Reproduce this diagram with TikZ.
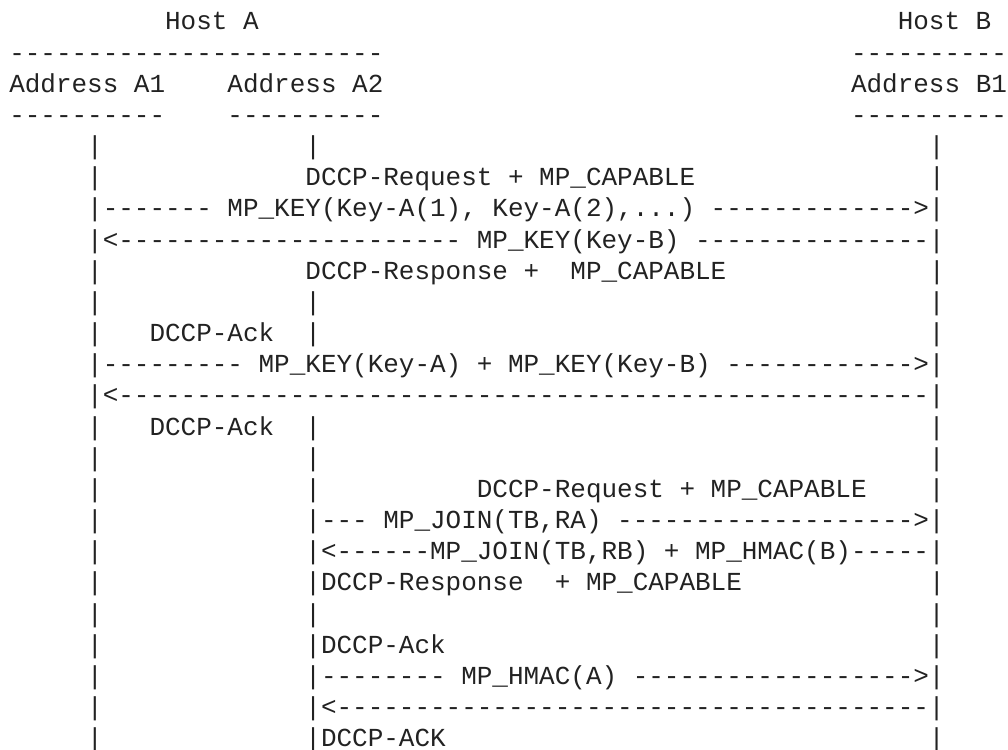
\documentclass[tikz,border=0pt]{standalone}
\usepackage{fontspec}
\setmonofont{Liberation Mono}
\usepackage{xcolor}
\definecolor{ink}{HTML}{222222}
\ExplSyntaxOn
\cs_new:Npn \myrep #1#2 { \prg_replicate:nn {#1} {#2} }
\ExplSyntaxOff
\newlength\cw
\setlength\cw{15.588pt}
\newcommand\mysp[1]{\hspace*{#1\cw}}
\newcommand\rowy[1]{-30-(#1-1)*31.16}
\tikzset{asciiline/.style={anchor=base west, inner sep=0pt, outer sep=0pt, text=ink,
  font=\ttfamily\fontsize{25.98pt}{31.16pt}\selectfont\frenchspacing}}
\begin{document}
\begin{tikzpicture}[x=1pt,y=1pt]
\fill[white] (0,0) rectangle (1008,-749);
\useasboundingbox (0,0) rectangle (1008,-749);
\node[asciiline] (l1) at (9.25,{\rowy{1}}) {\mysp{10}Host A\mysp{41}Host B};
\node[asciiline] (l2) at (9.25,{\rowy{2}}) {\myrep{24}{-}\mysp{30}\myrep{10}{-}};
\node[asciiline] (l3) at (9.25,{\rowy{3}}) {Address A1\mysp{4}Address A2\mysp{30}Address B1};
\node[asciiline] (l4) at (9.25,{\rowy{4}}) {\myrep{10}{-}\mysp{4}\myrep{10}{-}\mysp{30}\myrep{10}{-}};
\node[asciiline] (l5) at (9.25,{\rowy{5}}) {\mysp{5}|\mysp{13}|\mysp{39}|};
\node[asciiline] (l6) at (9.25,{\rowy{6}}) {\mysp{5}|\mysp{13}DCCP-Request + MP\_CAPABLE\mysp{15}|};
\node[asciiline] (l7) at (9.25,{\rowy{7}}) {\mysp{5}|\myrep{7}{-} MP\_KEY(Key-A(1), Key-A(2),...) \myrep{13}{-}>|};
\node[asciiline] (l8) at (9.25,{\rowy{8}}) {\mysp{5}|<\myrep{22}{-} MP\_KEY(Key-B) \myrep{15}{-}|};
\node[asciiline] (l9) at (9.25,{\rowy{9}}) {\mysp{5}|\mysp{13}DCCP-Response +\mysp{2}MP\_CAPABLE\mysp{13}|};
\node[asciiline] (l10) at (9.25,{\rowy{10}}) {\mysp{5}|\mysp{13}|\mysp{39}|};
\node[asciiline] (l11) at (9.25,{\rowy{11}}) {\mysp{5}|\mysp{3}DCCP-Ack\mysp{2}|\mysp{39}|};
\node[asciiline] (l12) at (9.25,{\rowy{12}}) {\mysp{5}|\myrep{9}{-} MP\_KEY(Key-A) + MP\_KEY(Key-B) \myrep{12}{-}>|};
\node[asciiline] (l13) at (9.25,{\rowy{13}}) {\mysp{5}|<\myrep{52}{-}|};
\node[asciiline] (l14) at (9.25,{\rowy{14}}) {\mysp{5}|\mysp{3}DCCP-Ack\mysp{2}|\mysp{39}|};
\node[asciiline] (l15) at (9.25,{\rowy{15}}) {\mysp{5}|\mysp{13}|\mysp{39}|};
\node[asciiline] (l16) at (9.25,{\rowy{16}}) {\mysp{5}|\mysp{13}|\mysp{10}DCCP-Request + MP\_CAPABLE\mysp{4}|};
\node[asciiline] (l17) at (9.25,{\rowy{17}}) {\mysp{5}|\mysp{13}|\myrep{3}{-} MP\_JOIN(TB,RA) \myrep{19}{-}>|};
\node[asciiline] (l18) at (9.25,{\rowy{18}}) {\mysp{5}|\mysp{13}|<\myrep{6}{-}MP\_JOIN(TB,RB) + MP\_HMAC(B)\myrep{5}{-}|};
\node[asciiline] (l19) at (9.25,{\rowy{19}}) {\mysp{5}|\mysp{13}|DCCP-Response\mysp{2}+ MP\_CAPABLE\mysp{12}|};
\node[asciiline] (l20) at (9.25,{\rowy{20}}) {\mysp{5}|\mysp{13}|\mysp{39}|};
\node[asciiline] (l21) at (9.25,{\rowy{21}}) {\mysp{5}|\mysp{13}|DCCP-Ack\mysp{31}|};
\node[asciiline] (l22) at (9.25,{\rowy{22}}) {\mysp{5}|\mysp{13}|\myrep{8}{-} MP\_HMAC(A) \myrep{18}{-}>|};
\node[asciiline] (l23) at (9.25,{\rowy{23}}) {\mysp{5}|\mysp{13}|<\myrep{38}{-}|};
\node[asciiline] (l24) at (9.25,{\rowy{24}}) {\mysp{5}|\mysp{13}|DCCP-ACK\mysp{31}|};
\end{tikzpicture}
\end{document}
